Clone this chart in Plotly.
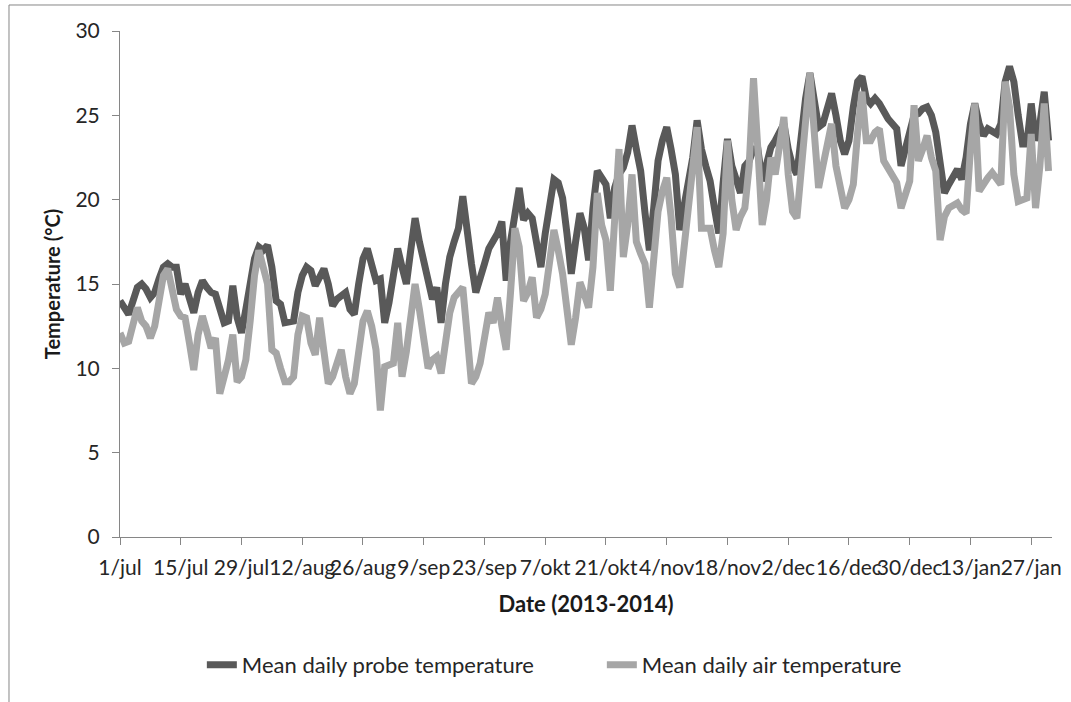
import pandas as pd
import plotly.graph_objects as go

start_date = "2013-07-01"

probe_temp = [
    14.0, 13.6, 13.2, 14.0, 14.8, 15.0, 14.7, 14.2, 14.5, 15.3,
    16.0, 16.2, 16.0, 16.0, 14.4, 15.0, 14.0, 13.3, 14.5, 15.2,
    14.8, 14.5, 14.4, 13.5, 12.7, 12.8, 14.9, 13.0, 12.1, 13.5,
    15.2, 16.5, 17.2, 17.0, 17.3, 16.0, 14.0, 13.8, 12.7, 12.7,
    12.8, 14.5, 15.5, 16.0, 15.8, 14.9, 15.5, 15.9, 15.0, 13.7,
    14.1, 14.3, 14.5, 13.5, 13.2, 15.0, 16.5, 17.1, 16.0, 15.2,
    15.3, 12.7, 13.9, 15.5, 17.1, 16.0, 15.0, 17.0, 18.9, 17.5,
    16.4, 15.0, 14.1, 14.8, 12.7, 15.0, 16.6, 17.5, 18.3, 20.2,
    18.0, 16.2, 14.5, 15.2, 16.2, 17.1, 17.5, 18.0, 18.7, 15.2,
    17.5, 19.3, 20.7, 18.8, 19.2, 18.9, 17.5, 16.0, 18.0, 19.5,
    21.2, 21.0, 20.1, 18.0, 15.6, 17.5, 19.2, 18.3, 16.4, 19.5,
    21.7, 21.3, 20.9, 18.9, 20.7, 21.5, 21.9, 22.8, 24.4, 23.0,
    21.7, 19.2, 17.0, 19.5, 22.3, 23.5, 24.3, 23.0, 21.5, 18.2,
    19.5, 20.7, 22.5, 24.7, 23.0, 22.0, 21.1, 19.5, 18.0, 21.0,
    23.6, 22.0, 21.3, 20.4, 22.0, 22.3, 23.0, 23.0, 21.1, 22.0,
    23.1, 23.5, 24.0, 24.5, 23.0, 22.0, 21.5, 24.0, 26.0, 27.5,
    26.0, 24.3, 24.5, 25.5, 26.3, 25.0, 23.5, 22.7, 23.5, 25.5,
    27.0, 27.3, 26.0, 25.7, 26.0, 25.7, 25.2, 24.8, 24.5, 24.2,
    22.0, 23.0, 24.3, 25.0, 25.1, 25.4, 25.5, 25.0, 24.0, 22.0,
    20.4, 20.9, 21.3, 21.8, 21.2, 22.5, 24.5, 25.7, 24.5, 23.8,
    24.2, 24.0, 23.9, 24.5, 27.0, 27.9, 27.0, 25.0, 23.3, 23.3,
    25.7, 23.5, 24.5, 26.4, 23.5,
]

air_temp = [
    12.1, 11.5, 11.6, 12.5, 13.6, 12.8, 12.5, 11.8, 12.5, 14.0,
    15.5, 15.9, 14.5, 13.5, 13.1, 13.0, 11.5, 9.9, 12.0, 13.1,
    12.2, 11.2, 11.8, 8.5, 9.5, 10.5, 12.0, 9.2, 9.5, 10.5,
    12.8, 15.5, 17.0, 16.0, 15.0, 11.1, 10.9, 10.0, 9.2, 9.2,
    9.5, 12.0, 13.1, 13.0, 11.5, 10.8, 13.0, 11.0, 9.1, 9.5,
    10.3, 11.1, 9.5, 8.5, 9.1, 11.0, 12.8, 13.4, 12.5, 11.1,
    7.5, 10.1, 10.2, 10.3, 12.7, 9.5, 11.0, 13.0, 15.0, 13.5,
    11.8, 10.0, 10.5, 10.7, 9.7, 11.5, 13.3, 14.2, 14.5, 14.8,
    12.0, 9.1, 9.5, 10.3, 11.8, 13.3, 12.7, 14.2, 12.5, 11.1,
    14.5, 18.3, 17.2, 14.0, 14.5, 15.4, 13.0, 13.5, 14.4, 16.0,
    18.2, 17.0, 15.6, 13.5, 11.4, 13.0, 15.1, 14.4, 13.6, 16.0,
    20.4, 18.5, 17.6, 14.6, 19.5, 23.0, 16.6, 18.5, 21.5, 17.5,
    16.8, 16.2, 13.6, 17.0, 19.3, 20.5, 21.3, 19.0, 15.6, 14.8,
    17.0, 19.5, 22.0, 24.3, 18.3, 18.3, 18.3, 17.0, 16.0, 18.0,
    23.5, 20.0, 18.2, 19.0, 19.5, 22.0, 27.2, 23.0, 18.5, 20.0,
    22.5, 21.5, 23.0, 24.9, 21.5, 19.3, 18.9, 22.0, 25.5, 27.5,
    24.0, 20.7, 22.0, 23.5, 24.5, 22.0, 20.5, 19.5, 20.0, 20.9,
    24.0, 26.4, 23.5, 23.5, 24.0, 24.2, 22.3, 21.8, 21.3, 21.0,
    19.5, 20.5, 21.1, 25.6, 22.3, 23.0, 23.8, 22.5, 21.7, 17.6,
    19.0, 19.5, 19.6, 19.8, 19.4, 19.2, 23.0, 25.7, 20.5, 21.0,
    21.3, 21.6, 21.2, 20.9, 27.0, 25.5, 21.5, 19.9, 20.0, 20.1,
    23.9, 19.5, 22.0, 25.7, 21.7,
]

tick_labels = [
    "1/jul", "15/jul", "29/jul", "12/aug", "26/aug", "9/sep", "23/sep", "7/okt",
    "21/okt", "4/nov", "18/nov", "2/dec", "16/dec", "30/dec", "13/jan", "27/jan",
]
tick_dates = pd.date_range(start_date, periods=len(tick_labels), freq="14D")

series_names = ["Mean daily probe temperature", "Mean daily air temperature"]
series_colors = ["#595959", "#a6a6a6"]

dates = pd.date_range(start_date, periods=len(probe_temp), freq="D")

FONT = "Lato, Carlito, Calibri, sans-serif"
AXIS_COL = "#868686"

fig = go.Figure()
for name, vals, col in zip(series_names, [probe_temp, air_temp], series_colors):
    fig.add_trace(go.Scatter(
        x=dates, y=vals, mode="lines", name=name,
        line=dict(color=col, width=7),
    ))

fig.update_layout(
    width=1071, height=702,
    margin=dict(l=120, r=19, t=31, b=165, autoexpand=False),
    paper_bgcolor="white", plot_bgcolor="white",
    font=dict(family=FONT, size=20, color="#262626"),
    showlegend=True,
    legend=dict(
        orientation="h", x=0.517, xanchor="center", y=-0.253, yanchor="middle",
        font=dict(size=22, color="#262626"),
        entrywidth=355, entrywidthmode="pixels",
        tracegroupgap=0, bgcolor="rgba(0,0,0,0)",
    ),
    xaxis=dict(
        type="date", automargin=False,
        range=["2013-07-01", "2014-01-31 19:00"],
        tickmode="array", tickvals=tick_dates, ticktext=tick_labels,
        tickangle=0, ticklabeloverflow="allow",
        showgrid=False, zeroline=False,
        showline=True, linecolor=AXIS_COL, linewidth=1,
        ticks="outside", ticklen=7, tickcolor=AXIS_COL,
        tickfont=dict(size=21, color="#262626"),
        ticklabelstandoff=5,
        title=dict(text="<b>Date (2013-2014)</b>", font=dict(size=22, color="#1a1a1a"), standoff=18),
    ),
    yaxis=dict(
        range=[0, 30], tickvals=[0, 5, 10, 15, 20, 25, 30], automargin=False,
        showgrid=False, zeroline=False,
        showline=True, linecolor=AXIS_COL, linewidth=1,
        ticks="outside", ticklen=7, tickcolor=AXIS_COL,
        tickfont=dict(size=21, color="#262626"),
        ticklabelstandoff=8,
        title=dict(text="<b>Temperature (°C)</b>", font=dict(size=20, color="#1a1a1a"), standoff=9),
    ),
    shapes=[
        dict(type="line", xref="paper", yref="paper", x0=-0.1191, x1=1.05, y0=1.0514, y1=1.0514,
             line=dict(color=AXIS_COL, width=1)),
        dict(type="line", xref="paper", yref="paper", x0=-0.1191, x1=-0.1191, y0=1.0514, y1=-0.34,
             line=dict(color=AXIS_COL, width=1)),
    ],
)

fig.write_html(
    "out.html",
    config={"displayModeBar": False},
    post_script="document.body.style.margin='0';document.body.style.padding='0';",
)
